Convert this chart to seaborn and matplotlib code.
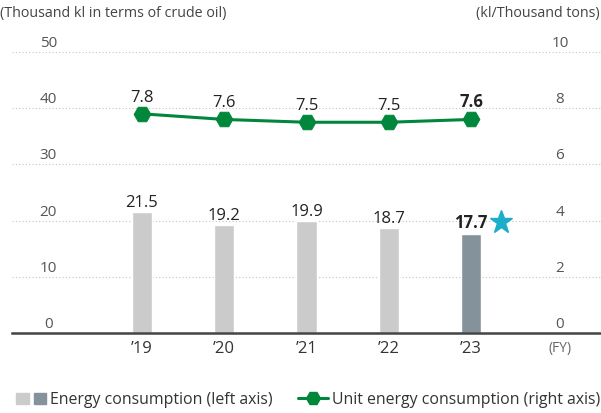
import numpy as np
import pandas as pd
import matplotlib
matplotlib.use("Agg")
import matplotlib.pyplot as plt
from matplotlib.patches import Patch
from matplotlib.lines import Line2D
from matplotlib.legend_handler import HandlerTuple
import seaborn as sns

# データ
years = ["\u201919", "\u201920", "\u201921", "\u201922", "\u201923"]
energy = [21.5, 19.2, 19.9, 18.7, 17.7]
unit_energy = [7.8, 7.6, 7.5, 7.5, 7.6]
left_ticks = [0, 10, 20, 30, 40, 50]
right_ticks = [0, 2, 4, 6, 8, 10]

BAR_LIGHT = "#cacbca"
BAR_DARK = "#84939b"
GREEN = "#00873c"
STAR = "#1aaec8"
TXT = "#333333"

sns.set_style("white")
plt.rcParams["font.family"] = ["Open Sans", "DejaVu Sans"]

fig = plt.figure(figsize=(6.01, 4.13), dpi=100)
ax = fig.add_axes([12 / 601, 1 - 333 / 413, 1 - 12 / 601, (333 - 52) / 413])

df = pd.DataFrame({"year": years, "energy": energy})
sns.barplot(data=df, x="year", y="energy", hue="year",
            palette=[BAR_LIGHT] * 4 + [BAR_DARK], width=0.245,
            legend=False, ax=ax, saturation=1)

ax.set_xlim(-1.58, 5.58)
ax.set_ylim(0, 50)
ax.set_xlabel("")
ax.set_ylabel("")
ax.set_yticks([])
ax.set_xticks(range(len(years)))
ax.set_xticklabels(years, fontsize=12, color=TXT)
ax.tick_params(axis="x", length=0, pad=6)
for s in ["top", "right", "left"]:
    ax.spines[s].set_visible(False)
ax.spines["bottom"].set_color("#444444")
ax.spines["bottom"].set_linewidth(1.8)

# 点線グリッド
for v in left_ticks[1:]:
    ax.axhline(v, color="#c4c4c4", lw=0.8, ls=(0, (1, 2)), zorder=0)

# 左右の目盛ラベル（グリッドの上）
for v, r in zip(left_ticks, right_ticks):
    ax.text(-1.14, v + 0.9, str(v), ha="center", va="baseline",
            fontsize=11, color="#555555")
    ax.text(5.08, v + 0.9, str(r), ha="center", va="baseline",
            fontsize=11, color="#555555")
ax.text(5.08, -1.5, "(FY)", ha="center", va="top", fontsize=10, color="#666666")

# 棒の数値
for i, v in enumerate(energy):
    bold = i == len(energy) - 1
    ax.text(i, v + 0.9, f"{v}", ha="center", va="baseline", fontsize=12,
            color="#222222", fontweight="bold" if bold else "normal")
ax.plot(len(energy) - 1 + 0.36, energy[-1] + 2.0, marker="*", ms=17,
        color=STAR, ls="none", zorder=5)

# 右軸：原単位
ax2 = ax.twinx()
ax2.set_ylim(0, 10)
ax2.set_yticks([])
for s in ax2.spines.values():
    s.set_visible(False)
sns.lineplot(x=np.arange(len(years)), y=unit_energy, ax=ax2, color=GREEN,
             lw=2.2, marker="H", markersize=12, markeredgecolor=GREEN)
for i, v in enumerate(unit_energy):
    bold = i == len(unit_energy) - 1
    ax2.text(i, v + 0.43, f"{v}", ha="center", va="baseline", fontsize=12,
             color="#222222", fontweight="bold" if bold else "normal")

# 単位
fig.text(0.0, 1 - 14 / 413, "(Thousand kl in terms of crude oil)",
         ha="left", va="center", fontsize=10.3, color="#444444")
fig.text(0.998, 1 - 14 / 413, "(kl/Thousand tons)",
         ha="right", va="center", fontsize=10.3, color="#444444")

# 凡例
h_bars = (Patch(color=BAR_LIGHT), Patch(color=BAR_DARK))
h_line = Line2D([], [], color=GREEN, lw=2.2, marker="H", markersize=10)
fig.legend([h_bars, h_line],
           ["Energy consumption (left axis)", "Unit energy consumption (right axis)"],
           handler_map={tuple: HandlerTuple(ndivide=None, pad=0.3)},
           loc="center left", bbox_to_anchor=(0.011, 1 - 400 / 413), ncol=2,
           frameon=False, fontsize=11.4, handlelength=1.9, handletextpad=0.25,
           columnspacing=1.6, labelcolor="#333333", borderaxespad=0.2)

fig.savefig("out.png", dpi=100)
